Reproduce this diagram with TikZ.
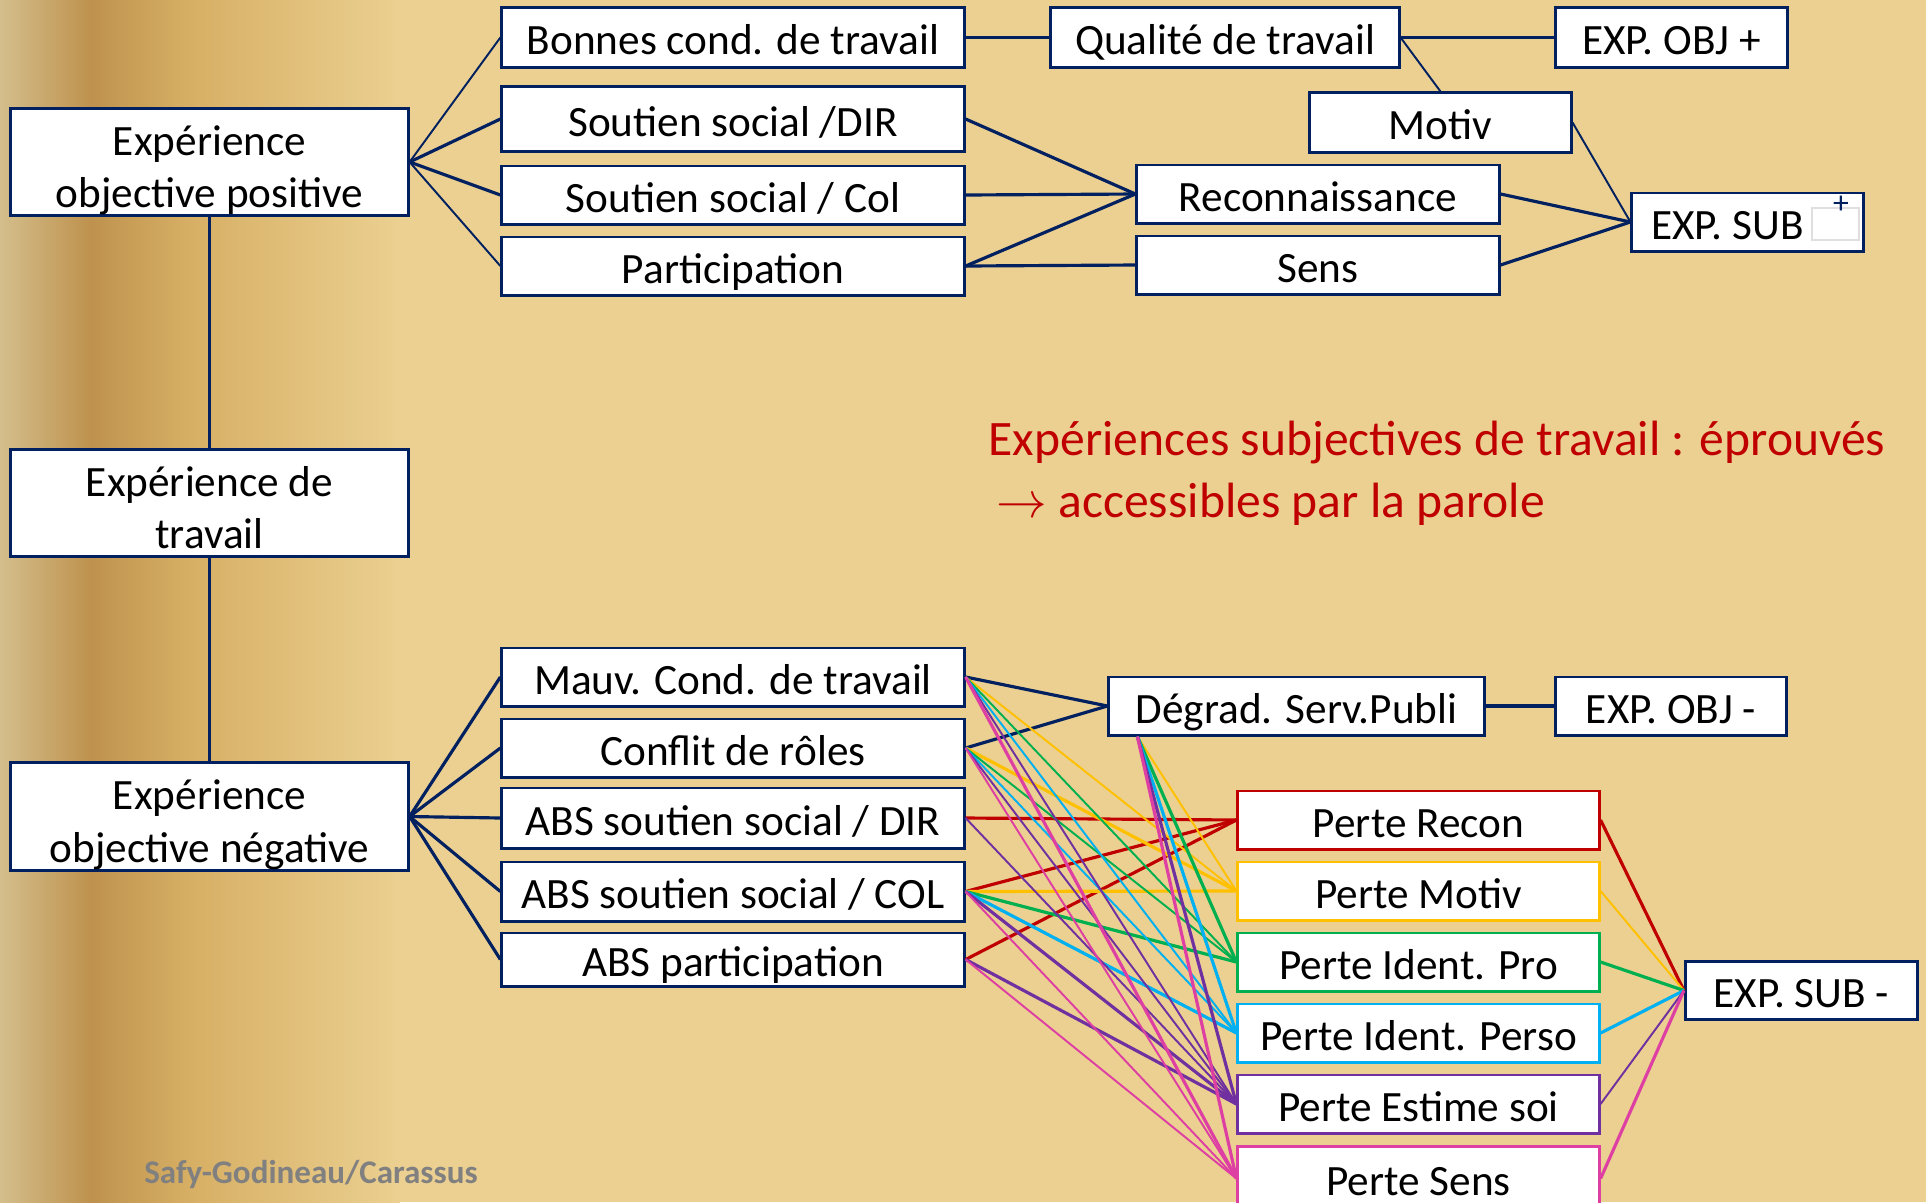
\documentclass[tikz,border=0pt]{standalone}
\usepackage{fontspec}
\setmainfont{Carlito}
\definecolor{marine}{HTML}{002060}
\definecolor{rouge}{HTML}{C00000}
\definecolor{jaune}{HTML}{FFC000}
\definecolor{vert}{HTML}{00B050}
\definecolor{ciel}{HTML}{00B0F0}
\definecolor{violet}{HTML}{7030A0}
\definecolor{rose}{HTML}{DE3FA3}
\definecolor{parchemin}{RGB}{235,208,145}
\definecolor{clair}{RGB}{212,190,140}
\definecolor{brun}{RGB}{190,146,78}
\definecolor{dore}{RGB}{215,175,100}
\tikzset{
  boite/.style={draw=marine,line width=0.85pt,fill=white,inner sep=0pt,
    minimum height=0.58cm,text height=12.2pt,text depth=2.4pt,
    font=\fontsize{12.3}{14}\selectfont},
  gros/.style={draw=marine,line width=0.85pt,fill=white,inner sep=0pt,
    align=center,minimum width=3.97cm,minimum height=1.07cm,
    text height=0.99cm,text depth=0.08cm,
    font=\fontsize{12.3}{14.8}\selectfont},
  fort/.style={line width=0.9pt},
  fin/.style={line width=0.55pt}
}
\begin{document}
\begin{tikzpicture}[x=0.01cm,y=-0.01cm]
  % fond parchemin
  \fill[parchemin] (0,0) rectangle (1926,1202);
  \shade[left color=clair,right color=brun] (0,0) rectangle (90,1202);
  \shade[left color=brun,right color=dore] (90,0) rectangle (190,1202);
  \shade[left color=dore,right color=parchemin] (190,0) rectangle (400,1202);
  \useasboundingbox (0,0) rectangle (1926,1202);

  % colonne de gauche
  \node[gros] (pos) at (209.5,162) {Expérience\\objective positive};
  \node[gros] (trav) at (209.5,503) {Expérience de\\travail};
  \node[gros] (neg) at (209.5,816.5) {Expérience\\objective négative};
  \draw[fort,marine] (pos.south) -- (trav.north) (trav.south) -- (neg.north);

  % experience positive
  \node[boite,minimum width=4.62cm,minimum height=0.59cm] (bonnes) at (733,37.5) {Bonnes cond. de travail};
  \node[boite,minimum width=4.62cm,minimum height=0.64cm] (sdir) at (733,119) {Soutien social /DIR};
  \node[boite,minimum width=4.62cm] (scol) at (733,195) {Soutien social / Col};
  \node[boite,minimum width=4.62cm] (part) at (733,266) {Participation};
  \node[boite,minimum width=3.48cm,minimum height=0.59cm] (qual) at (1225,37.5) {Qualité de travail};
  \node[boite,minimum width=2.31cm,minimum height=0.59cm] (objp) at (1671.5,37.5) {EXP. OBJ +};
  \node[boite,minimum width=2.61cm,minimum height=0.59cm] (motiv) at (1440.5,122.5) {Motiv};
  \node[boite,minimum width=3.62cm] (recon) at (1318,194) {Reconnaissance};
  \node[boite,minimum width=3.62cm] (sens) at (1318,265) {Sens};
  \node[boite,minimum width=2.31cm] (subp) at (1747.5,222) {EXP. SUB\hspace*{0.4cm}};
  \node[draw=gray!25,line width=0.4pt,minimum width=0.47cm,minimum height=0.32cm,inner sep=0pt] (carre) at (1835.5,224) {};
  \node[marine,font=\fontsize{9}{9}\selectfont,inner sep=0pt] (plus) at (1841,205) {+};

  \draw[marine,fin] (pos.east) -- (bonnes.west);
  \draw[marine,fort] (pos.east) -- (sdir.west);
  \draw[marine,fort] (pos.east) -- (scol.west);
  \draw[marine,fin] (pos.east) -- (part.west);
  \draw[marine,fort] (bonnes.east) -- (qual.west);
  \draw[marine,fort] (qual.east) -- (objp.west);
  \draw[marine,fin] (qual.east) -- (motiv.north);
  \draw[marine,fin] (motiv.east) -- (subp.west);
  \draw[marine,fort] (sdir.east) -- (recon.west);
  \draw[marine,fort] (scol.east) -- (recon.west);
  \draw[marine,fort] (part.east) -- (recon.west);
  \draw[marine,fort] (part.east) -- (sens.west);
  \draw[marine,fort] (recon.east) -- (subp.west);
  \draw[marine,fort] (sens.east) -- (subp.west);

  % texte rouge
  \node[rouge,anchor=base west,align=left,inner sep=0pt,
    font=\fontsize{14.1}{17.5}\selectfont] (titre) at (988,517)
    {Expériences subjectives de travail : éprouvés\\\hspace*{0.08cm}$\rightarrow$ accessibles par la parole};

  % experience negative
  \node[boite,minimum width=4.62cm] (mauv) at (733,677) {Mauv. Cond. de travail};
  \node[boite,minimum width=4.62cm] (conf) at (733,748) {Conflit de rôles};
  \node[boite,minimum width=4.62cm,minimum height=0.6cm] (adir) at (733,818) {ABS soutien social / DIR};
  \node[boite,minimum width=4.62cm,minimum height=0.59cm] (acol) at (733,891.5) {ABS soutien social / COL};
  \node[boite,minimum width=4.62cm,minimum height=0.53cm] (apart) at (733,959.5) {ABS participation};
  \node[boite,minimum width=3.75cm] (degrad) at (1296.5,706) {Dégrad. Serv.Publi};
  \node[boite,minimum width=2.31cm] (objm) at (1671,706) {EXP. OBJ -};
  \node[boite,draw=rouge,minimum width=3.61cm] (precon) at (1418.5,820) {Perte Recon};
  \node[boite,draw=jaune,minimum width=3.61cm] (pmotiv) at (1418.5,891) {Perte Motiv};
  \node[boite,draw=vert,minimum width=3.61cm] (pipro) at (1418.5,962) {Perte Ident. Pro};
  \node[boite,draw=ciel,minimum width=3.61cm] (piperso) at (1418.5,1033) {Perte Ident. Perso};
  \node[boite,draw=violet,minimum width=3.61cm] (pestime) at (1418.5,1104) {Perte Estime soi};
  \node[boite,draw=rose,minimum width=3.61cm,minimum height=0.64cm] (psens) at (1418.5,1178.5) {Perte Sens};
  \node[boite,minimum width=2.32cm] (subm) at (1801.5,990.5) {EXP. SUB -};
  \coordinate (dp) at ([xshift=0.3cm]degrad.south west);

  \foreach \b in {mauv,conf,adir,acol,apart}
    \draw[marine,fort] (neg.east) -- (\b.west);
  \draw[marine,fort] (mauv.east) -- (degrad.west);
  \draw[marine,fort] (conf.east) -- (degrad.west);
  \draw[marine,fort] (degrad.east) -- (objm.west);

  % causes -> pertes
  \foreach \a/\b/\c/\s in {adir/precon/rouge/fort,acol/precon/rouge/fort,apart/precon/rouge/fort,
      mauv/pmotiv/jaune/fin,conf/pmotiv/jaune/fort,acol/pmotiv/jaune/fort,
      mauv/pipro/vert/fin,conf/pipro/vert/fin,acol/pipro/vert/fort,
      mauv/piperso/ciel/fin,conf/piperso/ciel/fin,acol/piperso/ciel/fort,
      mauv/pestime/violet/fin,conf/pestime/violet/fin,adir/pestime/violet/fin,
      acol/pestime/violet/fort,apart/pestime/violet/fort,
      mauv/psens/rose/fort,conf/psens/rose/fin,acol/psens/rose/fin,apart/psens/rose/fin}
    \draw[\c,\s] (\a.east) -- (\b.west);
  \foreach \b/\c/\s in {pmotiv/jaune/fin,pipro/vert/fort,piperso/ciel/fort,
      pestime/violet/fort,psens/rose/fort}
    \draw[\c,\s] (dp) -- (\b.west);

  % pertes -> EXP. SUB -
  \foreach \b/\c/\s in {precon/rouge/fort,pmotiv/jaune/fin,pipro/vert/fort,
      piperso/ciel/fort,pestime/violet/fin,psens/rose/fort}
    \draw[\c,\s] (\b.east) -- (subm.west);

  \node[gray,font=\bfseries\fontsize{9.4}{10}\selectfont] (credit) at (311,1174) {Safy-Godineau/Carassus};
\end{tikzpicture}
\end{document}
